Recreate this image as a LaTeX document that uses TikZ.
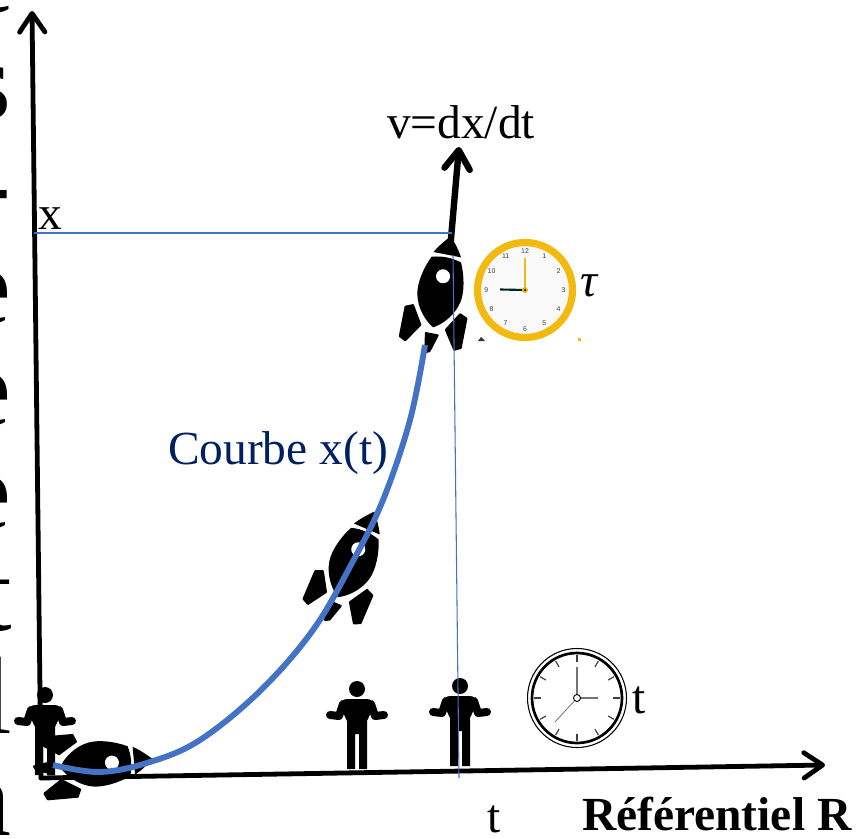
\documentclass[tikz,border=0pt]{standalone}
\usepackage{fontspec}
\setmainfont{Liberation Serif}
\newfontfamily\clocknum{Liberation Sans}
\usetikzlibrary{arrows.meta}
\definecolor{curveblue}{HTML}{4472C4}
\definecolor{navytext}{HTML}{002060}
\definecolor{clockgold}{HTML}{F2B90F}
\tikzset{
  lbl/.style={inner sep=0pt,outer sep=0pt,font=\fontsize{35.6}{40}\selectfont,anchor=base west},
  bigletter/.style={inner sep=0pt,outer sep=0pt,font=\fontsize{82.5}{90}\selectfont,anchor=base east},
  axisline/.style={line width=3.6pt,-{Straight Barb[length=14pt,width=19pt,line width=3.6pt,round]},line cap=round},
  thinblue/.style={draw=curveblue,line width=0.8pt},
  pics/rocket/.style={code={
    \fill[black] (-15,-33) .. controls (-5,-36) and (5,-36) .. (15,-33) .. controls (21,-20) and (24,-5) .. (22,6) .. controls (19,20) and (9,31) .. (0,36) .. controls (-9,31) and (-19,20) .. (-22,6) .. controls (-24,-5) and (-21,-20) .. (-15,-33) -- cycle;
    \fill[white] (0,-16) circle[radius=7];
    \fill[black] (-14,-38) .. controls (-9,-47) and (-4,-52) .. (0,-57) .. controls (4,-52) and (9,-47) .. (14,-38) -- cycle;
    \filldraw[black,line width=1.5pt,line join=round] (-24,18) -- (-13,36) -- (-25,54) -- (-31,51) -- (-31,21) -- cycle;
    \filldraw[black,line width=1.5pt,line join=round] (24,18) -- (13,36) -- (25,54) -- (31,51) -- (31,21) -- cycle;
    \filldraw[black,line width=1.5pt,line join=round] (-6,43) -- (6,43) -- (1,60) -- (-3,62) -- cycle;
  }},
  pics/person/.style={code={
    \fill[black] (0,0) circle[radius=8];
    \fill[black] (-10,10) -- (10,10) .. controls (14,10) and (16,13) .. (17,17) -- (10,32) -- (10,80) -- (2,80) -- (2,45) -- (-2,45) -- (-2,80) -- (-10,80) -- (-10,32) -- (-17,17) .. controls (-16,13) and (-14,10) .. (-10,10) -- cycle;
    \draw[black,line width=6pt,line cap=round,line join=round] (-14,15) -- (-18,27) -- (-27,26);
    \draw[black,line width=6pt,line cap=round,line join=round] (14,15) -- (18,27) -- (27,26);
  }}
}
\begin{document}
\begin{tikzpicture}[x=0.75pt,y=-0.75pt]
\useasboundingbox (0,0) rectangle (859,838);
% cropped letters at the left edge
\node[bigletter] (l0) at (12,13) {c};
\node[bigletter] (l1) at (11,118) {s};
\node[bigletter] (l2) at (11,220) {-};
\node[bigletter] (l3) at (11,323) {e};
\node[bigletter] (l4) at (11,425) {e};
\node[bigletter] (l5) at (11,528) {e};
\node[bigletter] (l6) at (12,630) {t};
\node[bigletter] (l7) at (12.5,733) {l};
\node[bigletter] (l8) at (11,835) {a};
% coordinates
\coordinate (yfoot) at (41,778);
\coordinate (ytop) at (32,11);
\coordinate (xtop) at (825,765);
\coordinate (vfoot) at (450,250);
\coordinate (vtip) at (459,147);
\coordinate (hl) at (34,233);
\coordinate (hr) at (452,233);
\coordinate (vt) at (453,255);
\coordinate (vb) at (459,778);
% people and rockets
\pic at (45,695) {person};
\pic at (357,689) {person};
\pic at (460,686) {person};
% axes
\draw[axisline] (yfoot) -- (ytop);
\draw[axisline] (yfoot) -- (xtop);
\draw[line width=4.8pt,-{Straight Barb[length=14pt,width=19pt,line width=4.8pt,round]},line cap=round] (vfoot) -- (vtip);
\pic[rotate=-85] at (96,764) {rocket};
\pic[rotate=-23] at (352,564) {rocket};
\pic[rotate=-11] at (440,292) {rocket};
% thin guide lines
\draw[thinblue] (hl) -- (hr);
\draw[thinblue] (vt) -- (vb);
% curve
\coordinate (c0) at (53,765);
\coordinate (c1) at (425,345);
\draw[curveblue,line width=4.4pt,line cap=butt] plot[smooth,tension=0.6] coordinates {(c0) (100,772) (150,762) (200,740) (260,691) (313,630) (352,563) (383,500) (410,420) (c1)};
% gold clock
\fill[white] (472,238) rectangle (582,342);
\coordinate (gc) at (525,290);
\draw[clockgold,line width=5.4pt,fill=gray!5] (gc) circle[radius=47.5];
\foreach \h in {1,...,12}
  \node[inner sep=0pt,font=\clocknum\fontsize{5.2}{6}\selectfont,text=black!75] (gn\h) at (gc) [shift={({90-30*\h}:29pt)}] {\h};
\draw[clockgold,line width=1.6pt] (gc) -- (525,258);
\draw[black!70!teal,line width=1.6pt] (gc) -- (500,289.5);
\fill[clockgold] (gc) circle[radius=3];
\fill[black!75] (gc) circle[radius=1.5];
\fill[black!80] (478,341) -- (481,337) -- (485,341) -- cycle;
\fill[clockgold] (578,341) rectangle (581,338);
% grey clock
\coordinate (wc) at (577,698);
\draw[black,line width=0.8pt,fill=white] (wc) circle[radius=49.5];
\draw[black,line width=2pt] (wc) circle[radius=45];
\foreach \a in {0,30,...,330}
  \draw[black!75,line width=0.9pt] ([shift={(\a:27pt)}]wc) -- ([shift={(\a:32pt)}]wc);
\coordinate (wh) at (577,667);
\coordinate (wm) at (598,698);
\coordinate (ws) at (555,722);
\draw[black!55,line width=2pt] (wc) -- (wh);
\draw[black!55,line width=2pt] (wc) -- (wm);
\draw[black!55,line width=0.6pt] (wc) -- (ws);
\draw[black,line width=0.7pt,fill=white] (wc) circle[radius=3.5];
% labels
\node[lbl] (vlab) at (387,139) {v=dx/dt};
\node[lbl] (xlab) at (38,229) {x};
\node[lbl,text=navytext] (clab) at (168,464) {Courbe x(t)};
\node[lbl] (tau) at (580,296) {\itshape τ};
\node[lbl] (t1) at (632,713) {t};
\node[lbl] (t2) at (487,832) {t};
\node[lbl,font=\fontsize{35.6}{40}\selectfont\bfseries] (ref) at (582,830) {Référentiel R};
\end{tikzpicture}
\end{document}
